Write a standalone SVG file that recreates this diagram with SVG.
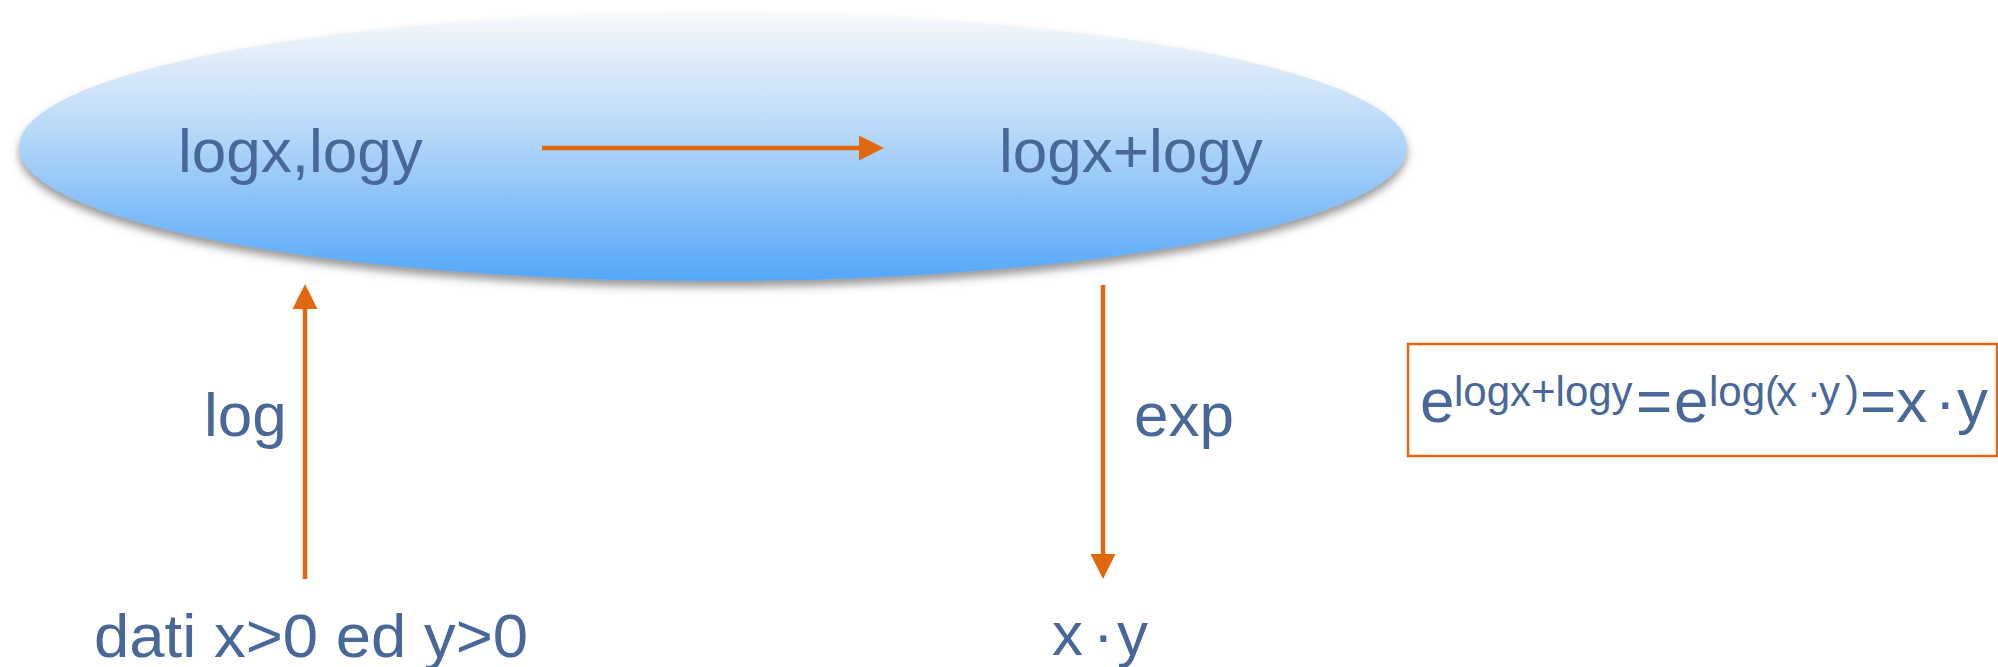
<svg xmlns="http://www.w3.org/2000/svg" width="1998" height="667" viewBox="0 0 1998 667">
  <style>
    .t { font-family: "Liberation Sans", Arial, sans-serif; fill: #48689A; }
    .big { font-size: 62px; }
    .sup { font-size: 42px; }
    .conn { stroke: #E0680E; stroke-width: 4.5; fill: none; }
  </style>
  <defs>
    <linearGradient id="blueFill" x1="0" y1="0" x2="0" y2="1">
      <stop offset="0" stop-color="#F7F8FA"/>
      <stop offset="0.45" stop-color="#B6D8F8"/>
      <stop offset="1" stop-color="#54A7F9"/>
    </linearGradient>
    <filter id="shadow" x="-5%" y="-10%" width="110%" height="125%">
      <feDropShadow dx="0" dy="6" stdDeviation="4" flood-color="#555" flood-opacity="0.6"/>
    </filter>
    <!-- head is 25px long / 25px wide at stroke 4.5; line stops at the head base -->
    <marker id="arrow" viewBox="0 0 10 10" refX="0.5" refY="5" markerWidth="5.6" markerHeight="5.6" markerUnits="strokeWidth" orient="auto">
      <path d="M0,0 L10,5 L0,10 Z" fill="#E0680E"/>
    </marker>
  </defs>

  <g id="domain">
    <ellipse cx="713" cy="147" rx="694" ry="134" fill="url(#blueFill)" filter="url(#shadow)"/>
  </g>

  <g id="logs">
    <text class="t big" x="178" y="172">logx,logy</text>
  </g>

  <g id="sum">
    <text class="t big" x="999" y="172">logx+logy</text>
  </g>

  <g id="inputs">
    <text class="t big" x="94" y="657" textLength="434" lengthAdjust="spacingAndGlyphs">dati x&gt;0 ed y&gt;0</text>
  </g>

  <g id="product">
    <text class="t big" y="655"><tspan x="1052">x</tspan><tspan x="1093">·</tspan><tspan x="1117">y</tspan></text>
  </g>

  <g id="identity">
    <rect x="1408" y="344" width="589" height="112" fill="none" stroke="#E0680E" stroke-width="2.5"/>
    <text class="t" y="422"><tspan class="big" x="1420">e</tspan><tspan class="sup" x="1454" y="406">logx+logy</tspan><tspan class="big" x="1636" y="422">=</tspan><tspan class="big" x="1674" y="422">e</tspan><tspan class="sup" x="1709" y="406">log(</tspan><tspan class="sup" x="1776" y="406">x</tspan><tspan class="sup" x="1807" y="406">·</tspan><tspan class="sup" x="1819" y="406">y</tspan><tspan class="sup" x="1845" y="406">)</tspan><tspan class="big" x="1860" y="422">=x</tspan><tspan class="big" x="1935" y="422">·</tspan><tspan class="big" x="1957" y="422">y</tspan></text>
  </g>

  <g id="connectors">
    <line class="conn" x1="542" y1="148" x2="860" y2="148" marker-end="url(#arrow)"/>
    <line class="conn" x1="305" y1="579" x2="305" y2="308" marker-end="url(#arrow)"/>
    <line class="conn" x1="1103" y1="285" x2="1103" y2="555" marker-end="url(#arrow)"/>
    <text class="t big" x="204" y="436">log</text>
    <text class="t big" x="1134" y="436">exp</text>
  </g>
</svg>
